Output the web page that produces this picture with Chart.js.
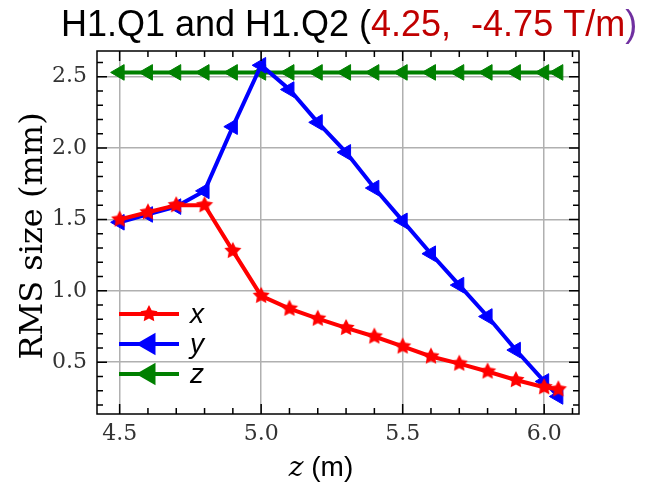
<!DOCTYPE html>
<html>
<head>
<meta charset="utf-8">
<script src="https://cdn.jsdelivr.net/npm/chart.js@4.4.0/dist/chart.umd.min.js"></script>
<style>
  html, body { margin: 0; padding: 0; background: #fff; }
  #wrap { width: 656px; height: 484px; }
</style>
</head>
<body>
<div id="wrap"><canvas id="rmsChart" width="656" height="484"></canvas></div>
<script>
// beam positions (m) and RMS sizes (mm)
const zPos   = [4.5, 4.6, 4.7, 4.8, 4.9, 5.0, 5.1, 5.2, 5.3, 5.4, 5.5, 5.6, 5.7, 5.8, 5.9, 6.0, 6.05];
const sigmaX = [1.50, 1.55, 1.60, 1.60, 1.28, 0.965, 0.875, 0.805, 0.74, 0.68, 0.61, 0.54, 0.49, 0.435, 0.375, 0.325, 0.31];
const sigmaY = [1.48, 1.535, 1.59, 1.70, 2.15, 2.58, 2.41, 2.18, 1.97, 1.72, 1.49, 1.26, 1.04, 0.82, 0.585, 0.365, 0.26];
const sigmaZ = [2.53, 2.53, 2.53, 2.53, 2.53, 2.53, 2.53, 2.53, 2.53, 2.53, 2.53, 2.53, 2.53, 2.53, 2.53, 2.53, 2.53];

// ticks
const xTicks = [4.5, 5.0, 5.5, 6.0];
const yTicks = [0.5, 1.0, 1.5, 2.0, 2.5];
const xMinor = [4.6, 4.7, 4.8, 4.9, 5.1, 5.2, 5.3, 5.4, 5.6, 5.7, 5.8, 5.9, 6.1];
const yMinor = [0.2, 0.3, 0.4, 0.6, 0.7, 0.8, 0.9, 1.1, 1.2, 1.3, 1.4, 1.6, 1.7, 1.8, 1.9, 2.1, 2.2, 2.3, 2.4, 2.6];

const seriesNames = ['x', 'y', 'z'];

// 塗りつぶし星マーカー
function makeStar(r, color) {
    const c = document.createElement('canvas');
    c.width = c.height = 2 * r + 2;
    const g = c.getContext('2d');
    g.fillStyle = color;
    g.beginPath();
    for (let i = 0; i < 10; i++) {
        const rad = i % 2 ? r * 0.5 : r;
        const a = -Math.PI / 2 + i * Math.PI / 5;
        g.lineTo(c.width / 2 + rad * Math.cos(a), c.height / 2 + rad * Math.sin(a));
    }
    g.closePath();
    g.fill();
    return c;
}
const starRed = makeStar(9, '#ff0000');

function toPoints(vals) {
    return zPos.map((z, i) => ({ x: z, y: vals[i] }));
}

// 枠線と内向きの目盛り
const frameTicks = {
    id: 'frameTicks',
    afterDatasetsDraw(chart) {
        const { ctx, chartArea: a, scales } = chart;
        ctx.save();
        ctx.strokeStyle = '#000';
        ctx.lineWidth = 1.5;
        ctx.strokeRect(a.left, a.top, a.right - a.left, a.bottom - a.top);
        ctx.beginPath();
        const tickX = (vals, len) => vals.forEach(v => {
            const px = scales.x.getPixelForValue(v);
            ctx.moveTo(px, a.bottom); ctx.lineTo(px, a.bottom - len);
            ctx.moveTo(px, a.top); ctx.lineTo(px, a.top + len);
        });
        const tickY = (vals, len) => vals.forEach(v => {
            const py = scales.y.getPixelForValue(v);
            ctx.moveTo(a.left, py); ctx.lineTo(a.left + len, py);
            ctx.moveTo(a.right, py); ctx.lineTo(a.right - len, py);
        });
        tickX(xTicks, 10); tickX(xMinor, 6);
        tickY(yTicks, 10); tickY(yMinor, 6);
        ctx.stroke();
        ctx.restore();
    },
    afterDraw(chart) {
        const { ctx } = chart;
        ctx.save();

        // タイトル (色分け)
        const parts = [
            { t: 'H1.Q1 and H1.Q2 (', c: '#000' },
            { t: '4.25,  -4.75 T/m', c: '#c00000' },
            { t: ')', c: '#7030a0' }
        ];
        ctx.font = '36px "Liberation Sans", Arial, sans-serif';
        ctx.textBaseline = 'alphabetic';
        ctx.textAlign = 'left';
        const total = parts.reduce((s, p) => s + ctx.measureText(p.t).width, 0);
        let tx = 349 - total / 2;
        parts.forEach(p => {
            ctx.fillStyle = p.c;
            ctx.fillText(p.t, tx, 36);
            tx += ctx.measureText(p.t).width;
        });

        // y軸ラベル
        ctx.fillStyle = '#000';
        ctx.save();
        ctx.translate(42, 236);
        ctx.rotate(-Math.PI / 2);
        ctx.font = '32px "DejaVu Serif", serif';
        ctx.textAlign = 'center';
        ctx.fillText('RMS size (mm)', 0, 0);
        ctx.restore();

        // x軸ラベル: イタリックの z + (m)
        ctx.font = 'italic 28px "DejaVu Serif", serif';
        const w1 = ctx.measureText('z').width;
        ctx.font = '28px "Liberation Sans", Arial, sans-serif';
        const w2 = ctx.measureText(' (m)').width;
        const lx = 321 - (w1 + w2) / 2;
        ctx.font = 'italic 28px "DejaVu Serif", serif';
        ctx.fillText('z', lx, 476);
        ctx.font = '28px "Liberation Sans", Arial, sans-serif';
        ctx.fillText(' (m)', lx + w1, 476);

        // 凡例 (プロット内左下)
        const rows = [314, 344, 374];
        chart.data.datasets.forEach((ds, i) => {
            const y = rows[i];
            ctx.strokeStyle = ds.borderColor;
            ctx.fillStyle = ds.borderColor;
            ctx.lineWidth = ds.borderWidth;
            ctx.beginPath();
            ctx.moveTo(119, y); ctx.lineTo(179, y);
            ctx.stroke();
            Chart.helpers.drawPoint(ctx, {
                pointStyle: ds.pointStyle,
                rotation: ds.pointRotation || 0,
                radius: ds.pointRadius,
                borderWidth: 1
            }, 149, y);
            ctx.fillStyle = '#000';
            ctx.font = 'italic 28px "Liberation Sans", Arial, sans-serif';
            ctx.textAlign = 'left';
            ctx.fillText(seriesNames[i], 190, y + 9);
        });
        ctx.restore();
    }
};

const tickFont = { family: '"DejaVu Serif", serif', size: 22 };

new Chart(document.getElementById('rmsChart'), {
    type: 'line',
    data: {
        datasets: [
            {
                label: 'x',
                data: toPoints(sigmaX),
                borderColor: '#ff0000',
                backgroundColor: '#ff0000',
                borderWidth: 4,
                pointStyle: starRed,
                pointRadius: 9
            },
            {
                label: 'y',
                data: toPoints(sigmaY),
                borderColor: '#0000ff',
                backgroundColor: '#0000ff',
                borderWidth: 4,
                pointStyle: 'triangle',
                pointRotation: -90,
                pointRadius: 9,
                pointBorderWidth: 1
            },
            {
                label: 'z',
                data: toPoints(sigmaZ),
                borderColor: '#008000',
                backgroundColor: '#008000',
                borderWidth: 4,
                pointStyle: 'triangle',
                pointRotation: -90,
                pointRadius: 9,
                pointBorderWidth: 1
            }
        ]
    },
    options: {
        responsive: false,
        animation: false,
        layout: { padding: { left: 0, right: 77, top: 51, bottom: 0 } },
        plugins: {
            legend: { display: false },
            tooltip: { enabled: false }
        },
        scales: {
            x: {
                type: 'linear',
                min: 4.42,
                max: 6.123,
                afterBuildTicks: s => { s.ticks = xTicks.map(v => ({ value: v })); },
                afterFit: s => { s.height = 70; },
                grid: { color: '#b0b0b0', lineWidth: 1.5, drawTicks: false },
                border: { display: false },
                ticks: {
                    padding: 7,
                    color: '#333',
                    font: tickFont,
                    maxRotation: 0,
                    autoSkip: false,
                    callback: v => v.toFixed(1)
                }
            },
            y: {
                type: 'linear',
                min: 0.137,
                max: 2.68,
                afterBuildTicks: s => { s.ticks = yTicks.map(v => ({ value: v })); },
                afterFit: s => { s.width = 97; },
                grid: { color: '#b0b0b0', lineWidth: 1.5, drawTicks: false },
                border: { display: false },
                ticks: {
                    padding: 10,
                    color: '#333',
                    font: tickFont,
                    autoSkip: false,
                    callback: v => v.toFixed(1)
                }
            }
        }
    },
    plugins: [frameTicks]
});
</script>
</body>
</html>
